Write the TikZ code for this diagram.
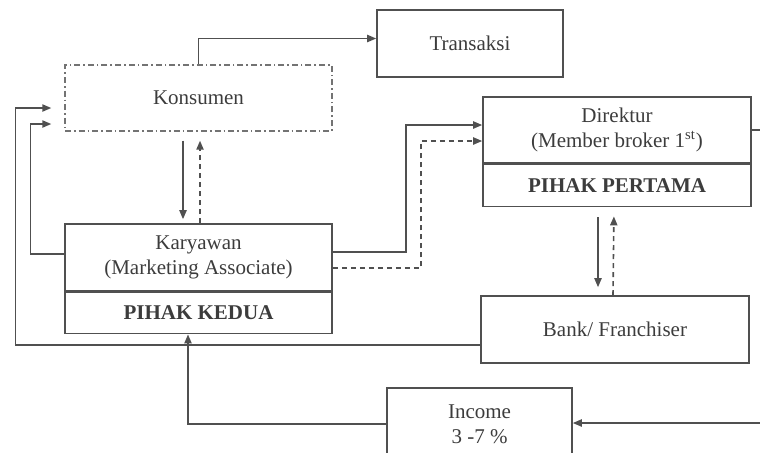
\documentclass[tikz,border=0pt]{standalone}
\usepackage{fontspec}
\setmainfont{Liberation Serif}
\usetikzlibrary{arrows.meta, positioning, calc}
\definecolor{LineGrey}{RGB}{80, 80, 80}
\definecolor{TextGrey}{RGB}{60, 60, 60}

\begin{document}
\begin{tikzpicture}[
    x=0.5pt, y=-0.5pt,
    >={Triangle[length=4.5pt, width=3.6pt]},
    font=\fontsize{10.5}{12.5}\selectfont,
    text=TextGrey,
    partbox/.style={
        draw=LineGrey,
        line width=0.8pt,
        align=center,
        inner sep=0pt
    },
    dashbox/.style={
        draw=LineGrey!80,
        line width=0.7pt,
        dash pattern=on 3pt off 1.5pt on 0.8pt off 1.5pt,
        align=center,
        inner sep=0pt
    },
    boldtext/.style={font=\fontsize{10.5}{12.5}\selectfont\bfseries},
    flow/.style={->, draw=LineGrey, line width=0.8pt},
    back/.style={->, draw=LineGrey, line width=0.8pt, dashed, dash pattern=on 2.5pt off 2pt}
]
\useasboundingbox (0,0) rectangle (760,452);
\clip (0,0) rectangle (760,452);

% boxes
\node[dashbox, minimum width=133.5pt, minimum height=33pt] (konsumen) at (198.5,98) {Konsumen};
\node[partbox, minimum width=93pt, minimum height=33.5pt] (transaksi) at (470,43.5) {Transaksi};

\node[partbox, minimum width=134pt, minimum height=33pt] (direktur) at (617,130)
{Direktur\\(Member broker 1\textsuperscript{st})};
\node[partbox, boldtext, minimum width=134pt, minimum height=21pt, below=0pt of direktur] (pertama)
{PIHAK PERTAMA};

\node[partbox, minimum width=133.5pt, minimum height=33.5pt] (karyawan) at (198.5,257.5)
{Karyawan\\(Marketing Associate)};
\node[partbox, boldtext, minimum width=133.5pt, minimum height=20.5pt, below=0pt of karyawan] (kedua)
{PIHAK KEDUA};

\node[partbox, minimum width=134pt, minimum height=33.5pt] (bank) at (615,329.5) {Bank/ Franchiser};
\node[partbox, minimum width=92.5pt, minimum height=36pt] (income) at (479.5,424) {Income\\3 -7 \%};

\coordinate (dir_out) at (762,130);
\coordinate (inc_in) at (762,423);

% connectors
\draw[flow] (konsumen.north) |- ($(transaksi.west)+(0,-5)$);
\draw[flow, shorten <=4.5pt, shorten >=2pt] ($(konsumen.south)+(-15.5,0)$) -- ($(karyawan.north)+(-15.5,0)$);
\draw[back, shorten >=4.5pt] ($(karyawan.north)+(1.5,0)$) -- ($(konsumen.south)+(1.5,0)$);

\draw[flow] ($(karyawan.east)+(0,-5.5)$) -| ($(direktur.west)+(-76,-5)$) -- ($(direktur.west)+(0,-5)$);
\draw[back] ($(karyawan.east)+(0,10.5)$) -| ($(direktur.west)+(-61,11)$) -- ($(direktur.west)+(0,11)$);

\draw[flow, shorten <=5pt, shorten >=4pt] ($(pertama.south)+(-19,0)$) -- ($(bank.north)+(-17,0)$);
\draw[back, shorten >=4.5pt] ($(bank.north)+(-2,0)$) -- ($(pertama.south)+(-3,0)$);

\draw[flow, shorten >=6.5pt] ($(bank.west)+(0,15.5)$) -| ($(konsumen.west)+(-49,10)$) -- ($(konsumen.west)+(0,10)$);
\draw[flow, shorten >=6.5pt] ($(karyawan.west)+(0,-3.5)$) -| ($(konsumen.west)+(-34,26)$) -- ($(konsumen.west)+(0,26)$);

\draw[draw=LineGrey, line width=0.8pt] (direktur.east) -- (dir_out);
\draw[flow] (inc_in) -- (inc_in -| income.east);
\draw[flow] (income.west) -| ($(kedua.south)+(-10.5,0)$);

\end{tikzpicture}
\end{document}
